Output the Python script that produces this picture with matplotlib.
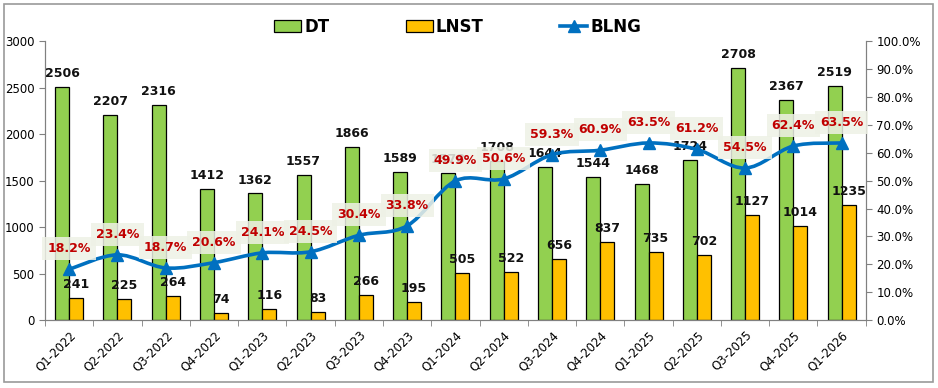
import numpy as np
import matplotlib
matplotlib.use('Agg')
from matplotlib import pyplot as plt
from matplotlib.path import Path
from matplotlib.patches import PathPatch, Rectangle
from matplotlib.ticker import FuncFormatter, MultipleLocator
from matplotlib.lines import Line2D

quarters = ["Q1-2022", "Q2-2022", "Q3-2022", "Q4-2022", "Q1-2023", "Q2-2023",
            "Q3-2023", "Q4-2023", "Q1-2024", "Q2-2024", "Q3-2024", "Q4-2024",
            "Q1-2025", "Q2-2025", "Q3-2025", "Q4-2025", "Q1-2026"]
dt = [2506, 2207, 2316, 1412, 1362, 1557, 1866, 1589, 1578, 1708, 1644, 1544,
      1468, 1724, 2708, 2367, 2519]
lnst = [241, 225, 264, 74, 116, 83, 266, 195, 505, 522, 656, 837,
        735, 702, 1127, 1014, 1235]
blng = [18.2, 23.4, 18.7, 20.6, 24.1, 24.5, 30.4, 33.8, 49.9, 50.6, 59.3, 60.9,
        63.5, 61.2, 54.5, 62.4, 63.5]

green = "#92D050"
yellow = "#FFC000"
blue = "#0070C0"
red = "#C00000"


def smooth_path(xs, ys, t=0.5):
    # catmull-rom style bezier, like excel "smoothed line"
    xs = np.asarray(xs, float)
    ys = np.asarray(ys, float)
    pts = np.column_stack([xs, ys])
    verts = [pts[0]]
    codes = [Path.MOVETO]
    n = len(pts)
    for i in range(n - 1):
        p0 = pts[max(i - 1, 0)]
        p1 = pts[i]
        p2 = pts[i + 1]
        p3 = pts[min(i + 2, n - 1)]
        c1 = p1 + (p2 - p0) * t / 3
        c2 = p2 - (p3 - p1) * t / 3
        verts += [c1, c2, p2]
        codes += [Path.CURVE4] * 3
    return Path(verts, codes)


fig = plt.figure(figsize=(9.38, 3.88), dpi=100)
fig.patches.append(Rectangle((0.004, 0.015), 0.991, 0.975, transform=fig.transFigure,
                             fill=False, edgecolor="#9a9a9a", linewidth=1.2))

ax = fig.add_axes([0.048, 0.175, 0.875, 0.719])
ax2 = ax.twinx()

x = np.arange(len(quarters))
w = 0.29
ax.bar(x - w / 2, dt, w, color=green, edgecolor="black", linewidth=0.9, zorder=2)
ax.bar(x + w / 2, lnst, w, color=yellow, edgecolor="black", linewidth=0.9, zorder=2)

for i in range(len(x)):
    ax.annotate(str(dt[i]), (x[i] - w / 2, dt[i]), xytext=(0, 5), textcoords="offset points",
                ha="center", va="bottom", fontsize=9, fontweight="bold", color="#111111")
    ax.annotate(str(lnst[i]), (x[i] + w / 2, lnst[i]), xytext=(0, 5), textcoords="offset points",
                ha="center", va="bottom", fontsize=9, fontweight="bold", color="#111111")

ax.set_ylim(0, 3000)
ax.set_xlim(-0.5, len(x) - 0.5)
ax.yaxis.set_major_locator(MultipleLocator(500))
ax2.set_ylim(0, 100)
ax2.yaxis.set_major_locator(MultipleLocator(10))
ax2.yaxis.set_major_formatter(FuncFormatter(lambda v, p: f"{v:.1f}%"))

ax2.add_patch(PathPatch(smooth_path(x, blng), fill=False, edgecolor=blue, linewidth=2.6, zorder=3))
ax2.plot(x, blng, linestyle="none", marker="^", markersize=8, color=blue, zorder=4)
for i in range(len(x)):
    ax2.annotate(f"{blng[i]:.1f}%", (x[i], blng[i]), xytext=(0, 10), textcoords="offset points",
                 ha="center", va="bottom", fontsize=9, fontweight="bold", color=red, zorder=5,
                 bbox=dict(boxstyle="square,pad=0.4", facecolor="#EEF1E6", edgecolor="none", alpha=0.85))

ax.set_xticks(x)
ax.set_xticklabels(quarters, rotation=45, ha="right", rotation_mode="anchor", fontsize=8.5)
ax.set_xticks(np.arange(-0.5, len(x), 1), minor=True)
ax.tick_params(axis="x", which="major", length=0, pad=6)
ax.tick_params(axis="x", which="minor", length=4, color="#808080")
ax.tick_params(axis="y", labelsize=8.5, length=4, color="#808080")
ax2.tick_params(axis="y", labelsize=8.5, length=4, color="#808080")

for a in (ax, ax2):
    a.spines["top"].set_visible(False)
    for s in ("left", "right", "bottom"):
        a.spines[s].set_color("#808080")

handles = [Rectangle((0, 0), 1, 1, facecolor=green, edgecolor="black", linewidth=0.9),
           Rectangle((0, 0), 1, 1, facecolor=yellow, edgecolor="black", linewidth=0.9),
           Line2D([], [], color=blue, linewidth=2.6, marker="^", markersize=8)]
fig.legend(handles, ["DT", "LNST", "BLNG"], loc="center", bbox_to_anchor=(0.488, 0.93), ncol=3,
           frameon=False, prop={"weight": "bold", "size": 12}, handlelength=1.6,
           handleheight=0.7, columnspacing=4.6, handletextpad=0.2)

plt.savefig("out.png", dpi=100)
plt.close()
